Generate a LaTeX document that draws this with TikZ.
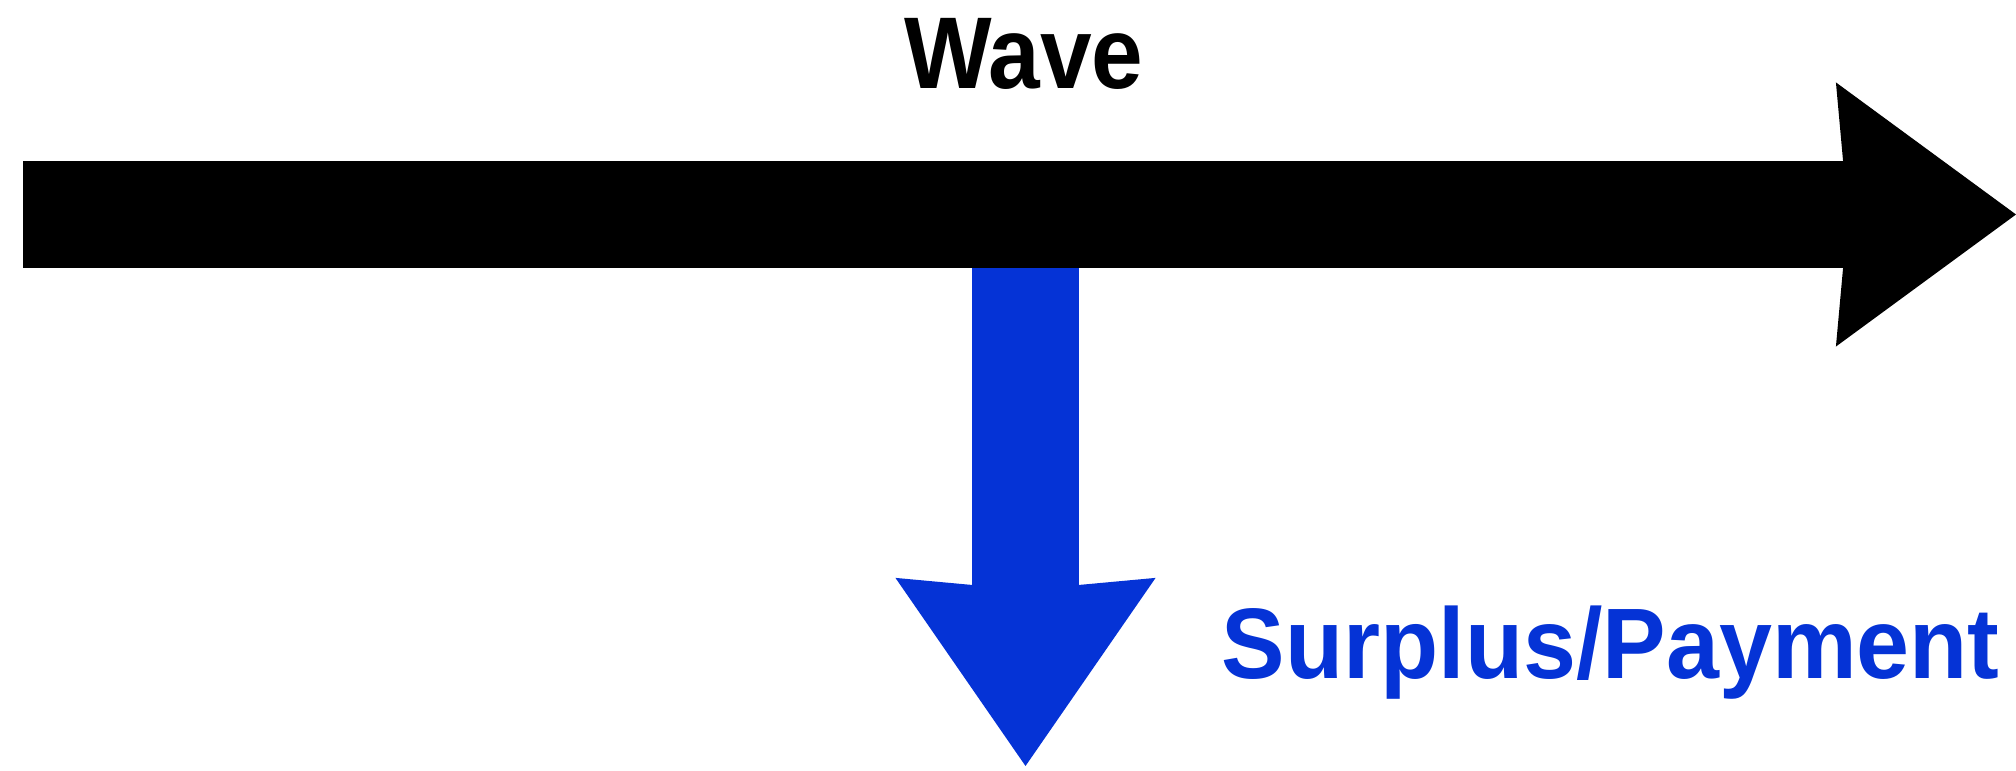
\documentclass[tikz,border=0pt]{standalone}
\usepackage{fontspec}
\setsansfont{Liberation Sans}
\usetikzlibrary{arrows.meta}
\definecolor{wavefg}{HTML}{000000}
\definecolor{paymentblue}{HTML}{0533D6}

\begin{document}
\begin{tikzpicture}[x=0.01cm,y=-0.01cm,font=\sffamily\bfseries]
  \tikzstyle{wavearrow}=[draw=wavefg, line width=1.07cm,
    -{Stealth[length=1.8cm, width=2.64cm, inset=0.12cm, line width=0pt]}]
  \tikzstyle{payarrow}=[draw=paymentblue, line width=1.07cm,
    -{Stealth[length=1.88cm, width=2.6cm, inset=0.12cm, line width=0pt]}]
  \tikzstyle{label}=[inner sep=0pt, anchor=base]

  \useasboundingbox (0,0) rectangle (2016,771);

  % timeline and what it pays out
  \coordinate (waveStart) at (23,214.5);
  \coordinate (waveEnd) at (2016,214.5);
  \coordinate (split) at (1025.5,250);
  \coordinate (payEnd) at (1025.5,766);

  \draw[payarrow] (split) -- (payEnd);
  \draw[wavearrow] (waveStart) -- (waveEnd);

  \node[label, font=\fontsize{29}{33}\sffamily\bfseries] (wave) at (1024,89)
    {\scalebox{0.91}[1]{Wave}};
  \node[label, anchor=base west, text=paymentblue,
    font=\fontsize{28.5}{33}\sffamily\bfseries] (payment) at (1221,679)
    {\scalebox{0.95}[1]{Surplus/Payment}};
\end{tikzpicture}
\end{document}
